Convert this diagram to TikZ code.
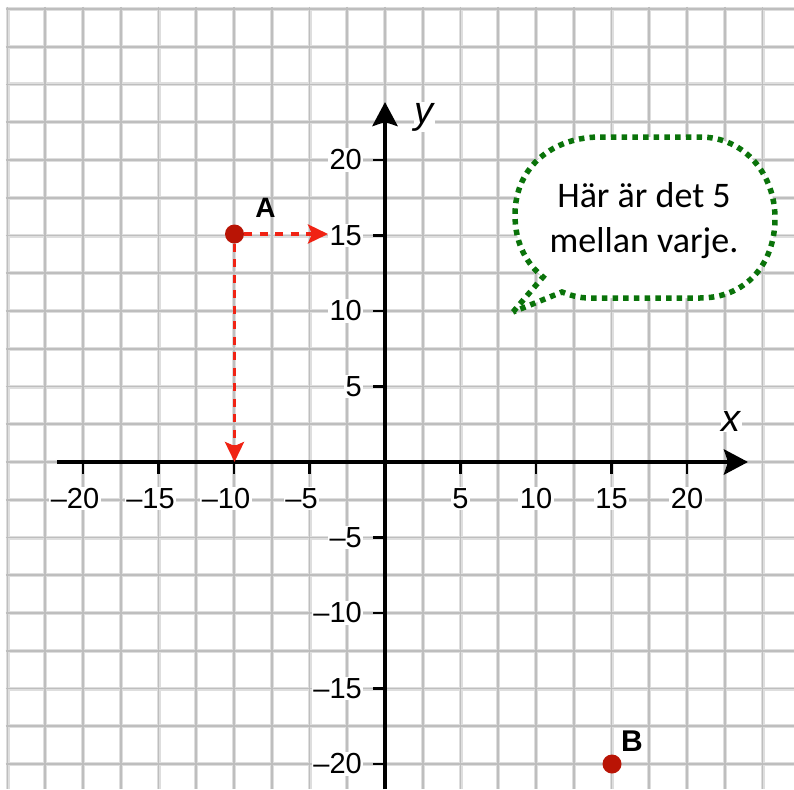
\documentclass[tikz,border=0pt]{standalone}
\usepackage{fontspec}
\setmainfont{Liberation Sans}
\newfontfamily\calfont{Carlito}
\usetikzlibrary{arrows.meta}
\definecolor{gridlight}{RGB}{222,222,222}
\definecolor{griddark}{RGB}{190,190,190}
\definecolor{ptred}{RGB}{185,20,5}
\definecolor{arrred}{RGB}{240,35,20}
\definecolor{bubgreen}{RGB}{10,115,10}
\tikzset{
 gridwide/.style={draw=gridlight, line width=4pt},
 gridthin/.style={draw=griddark, line width=1.6pt},
 axisline/.style={line width=4.5pt, -{Stealth[length=24pt,width=25pt,inset=4pt]}},
 tickline/.style={line width=2.5pt},
 ticklab/.style={fill=white, inner sep=1.5pt, font=\fontsize{29}{34}\selectfont},
 axlab/.style={fill=white, inner sep=1pt, font=\fontsize{38}{44}\selectfont\itshape},
 ptdot/.style={circle, fill=ptred, minimum size=19pt, inner sep=0pt},
 ptlab/.style={font=\fontsize{28}{32}\selectfont\bfseries, inner sep=0pt},
 guide/.style={arrred, line width=3.6pt, dash pattern=on 8pt off 7.5pt, -{Stealth[length=20pt,width=19pt,inset=4pt]}},
 bubble/.style={draw=bubgreen, fill=white, line width=5.5pt, dash pattern=on 5.5pt off 5.2pt},
 bubtext/.style={font=\calfont\fontsize{36}{45}\selectfont, align=center},
}
\begin{document}
\begin{tikzpicture}[x=1pt,y=-1pt]
\useasboundingbox (0,0) rectangle (794,789);
\fill[white] (0,0) rectangle (794,789);
% grid
\foreach \k in {0,...,20} {
  \draw[gridwide] ({7.5+37.75*\k},7) -- ({7.5+37.75*\k},789);
  \draw[gridwide] (5.5,{9+37.75*\k}) -- (794,{9+37.75*\k});
}
\foreach \k in {0,...,20} {
  \draw[gridthin] ({7.5+37.75*\k},7) -- ({7.5+37.75*\k},789);
  \draw[gridthin] (5.5,{9+37.75*\k}) -- (794,{9+37.75*\k});
}
% axes
\coordinate (xs) at (57,462); \coordinate (xe) at (748,462);
\coordinate (ys) at (385,789); \coordinate (ye) at (385,102);
\draw[axisline] (xs) -- (xe);
\draw[axisline] (ys) -- (ye);
% ticks
\foreach \v in {-20,-15,-10,-5,5,10,15,20} {
  \coordinate (xt\v) at ({385+15.1*\v},462);
  \draw[tickline] (xt\v) -- ++(0,12);
  \coordinate (yt\v) at (385,{462-15.1*\v});
  \draw[tickline] (yt\v) -- ++(-12,0);
}
% tick labels
\foreach \v in {5,10,15,20} {
  \node[ticklab] (xl\v) at ({385+15.1*\v},498.5) {\v};
  \node[ticklab, anchor=east] (yl\v) at (363.5,{462-15.1*\v}) {\v};
  \node[ticklab] (xln\v) at ({385-15.1*\v-8},498.5) {–\v};
  \node[ticklab, anchor=east] (yln\v) at (363.5,{462+15.1*\v}) {–\v};
}
\node[axlab] (ylab) at (424,117) {y};
\node[axlab] (xlab) at (731,421) {x};
% guides and points
\node[ptdot] (A) at (234.5,234) {};
\node[ptdot] (B) at (612,764) {};
\coordinate (Ah) at (328,234);
\coordinate (Av) at (234.5,462);
\draw[guide] (A) -- (Ah);
\draw[guide] (A) -- (Av);
\node[ptlab] (Alab) at (265.5,207.5) {A};
\node[ptlab, font=\fontsize{30}{34}\selectfont\bfseries] (Blab) at (632,741) {B};
% speech bubble
\draw[bubble] (513,312) -- (543,277)
  .. controls (528,265) and (515,245) .. (515,215)
  .. controls (515,165) and (555,137) .. (600,137)
  -- (700,137)
  .. controls (745,137) and (775,175) .. (775,218)
  .. controls (775,265) and (745,298) .. (700,298)
  -- (590,298)
  .. controls (578,298) and (570,295) .. (562,292)
  -- cycle;
\node[bubtext] (note) at (644,221) {Här är det 5\\mellan varje.};
\end{tikzpicture}
\end{document}
